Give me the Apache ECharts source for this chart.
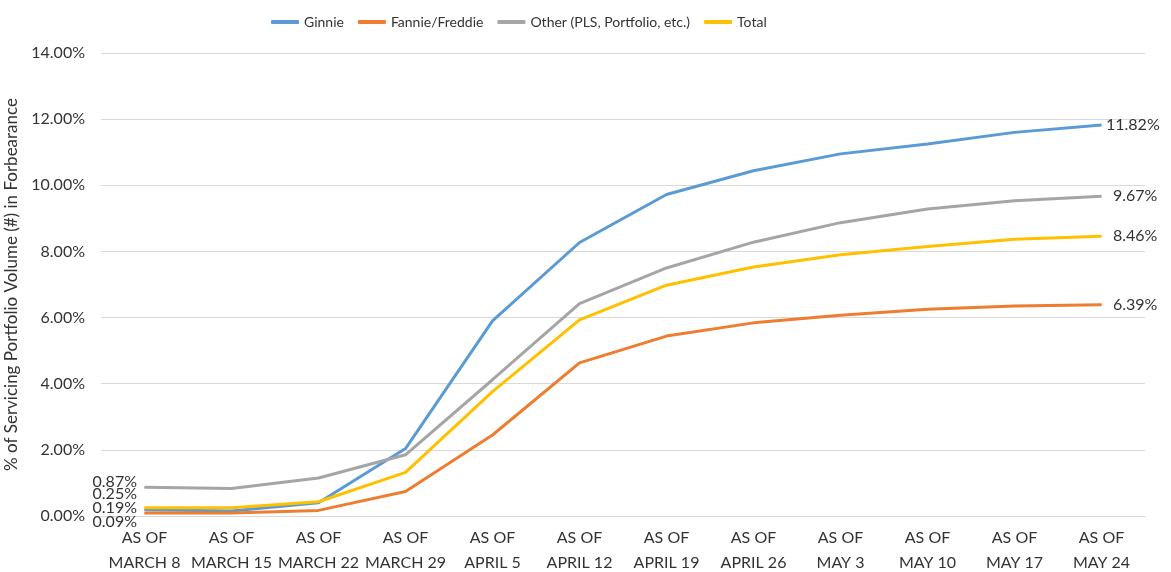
<!DOCTYPE html>
<html>
<head>
<meta charset="utf-8">
<title>Forbearance</title>
<script src="https://cdn.jsdelivr.net/npm/echarts@6/dist/echarts.min.js"></script>
</head>
<body style="margin:0">
<div id="main" style="width:1171px;height:572px;"></div>
<script type="text/javascript">
var categories = ['AS OF\nMARCH 8', 'AS OF\nMARCH 15', 'AS OF\nMARCH 22', 'AS OF\nMARCH 29', 'AS OF\nAPRIL 5', 'AS OF\nAPRIL 12',
    'AS OF\nAPRIL 19', 'AS OF\nAPRIL 26', 'AS OF\nMAY 3', 'AS OF\nMAY 10', 'AS OF\nMAY 17', 'AS OF\nMAY 24'];
var ginnie = [0.19, 0.15, 0.40, 2.04, 5.90, 8.27, 9.72, 10.44, 10.95, 11.25, 11.60, 11.82];
var fannie = [0.09, 0.09, 0.17, 0.74, 2.45, 4.63, 5.44, 5.84, 6.07, 6.25, 6.35, 6.39];
var other = [0.87, 0.83, 1.15, 1.85, 4.12, 6.42, 7.50, 8.28, 8.87, 9.28, 9.53, 9.67];
var total = [0.25, 0.25, 0.43, 1.32, 3.76, 5.93, 6.98, 7.53, 7.90, 8.15, 8.37, 8.46];

var textColor = '#333333';
var font = 'Lato';

// first and last points carry data labels, like the Excel original
function withLabels(values, endDist) {
    return values.map(function (v, i) {
        if (i === 0) {
            return {value: v, label: {show: true, position: 'left', distance: 7}};
        }
        if (i === values.length - 1) {
            return {value: v, label: {show: true, position: 'right', distance: endDist}};
        }
        return v;
    });
}

function makeSeries(name, values, color, startDy, endDist) {
    return {
        name: name,
        type: 'line',
        data: withLabels(values, endDist),
        symbol: 'circle',
        symbolSize: 1,
        lineStyle: {color: color, width: 3},
        itemStyle: {color: color},
        label: {
            fontFamily: font, fontSize: 16, color: textColor,
            formatter: function (p) { return p.value.toFixed(2) + '%'; }
        },
        // the start labels are pushed apart so they do not overlap
        labelLayout: function (params) {
            if (params.dataIndex === 0) {
                return {dy: startDy, hideOverlap: false};
            }
            return {hideOverlap: false};
        },
        emphasis: {disabled: true}
    };
}

var myChart = echarts.init(document.getElementById('main'));
var option = {
    animation: false,
    textStyle: {fontFamily: font},
    legend: {
        top: 10,
        left: 266,
        itemWidth: 28,
        itemHeight: 4,
        itemGap: 14,
        icon: 'roundRect',
        textStyle: {fontFamily: font, fontSize: 14, color: textColor},
        data: ['Ginnie', 'Fannie/Freddie', 'Other (PLS, Portfolio, etc.)', 'Total']
    },
    grid: {left: 101, right: 26, top: 53, bottom: 56, outerBoundsMode: 'none', containLabel: false},
    xAxis: {
        type: 'category',
        data: categories,
        boundaryGap: true,
        axisLine: {lineStyle: {color: '#d9d9d9', width: 1}},
        axisTick: {show: false},
        axisLabel: {fontFamily: font, fontSize: 16, color: textColor, lineHeight: 25, margin: 9, interval: 0}
    },
    yAxis: {
        type: 'value',
        min: 0,
        max: 14,
        interval: 2,
        name: '% of Servicing Portfolio Volume (#) in Forbearance',
        nameLocation: 'middle',
        nameGap: 65,
        nameTextStyle: {fontFamily: font, fontSize: 17, color: textColor},
        axisLine: {show: false},
        axisTick: {show: false},
        splitLine: {lineStyle: {color: '#d9d9d9', width: 1}},
        axisLabel: {
            fontFamily: font, fontSize: 16, color: textColor, margin: 16,
            formatter: function (v) { return v.toFixed(2) + '%'; }
        }
    },
    series: [
        makeSeries('Ginnie', ginnie, '#5B9BD5', -2, 4),
        makeSeries('Fannie/Freddie', fannie, '#ED7D31', 9, 11),
        makeSeries('Other (PLS, Portfolio, etc.)', other, '#A5A5A5', -5, 11),
        makeSeries('Total', total, '#FFC000', -14, 11)
    ]
};
myChart.setOption(option);
</script>
</body>
</html>
